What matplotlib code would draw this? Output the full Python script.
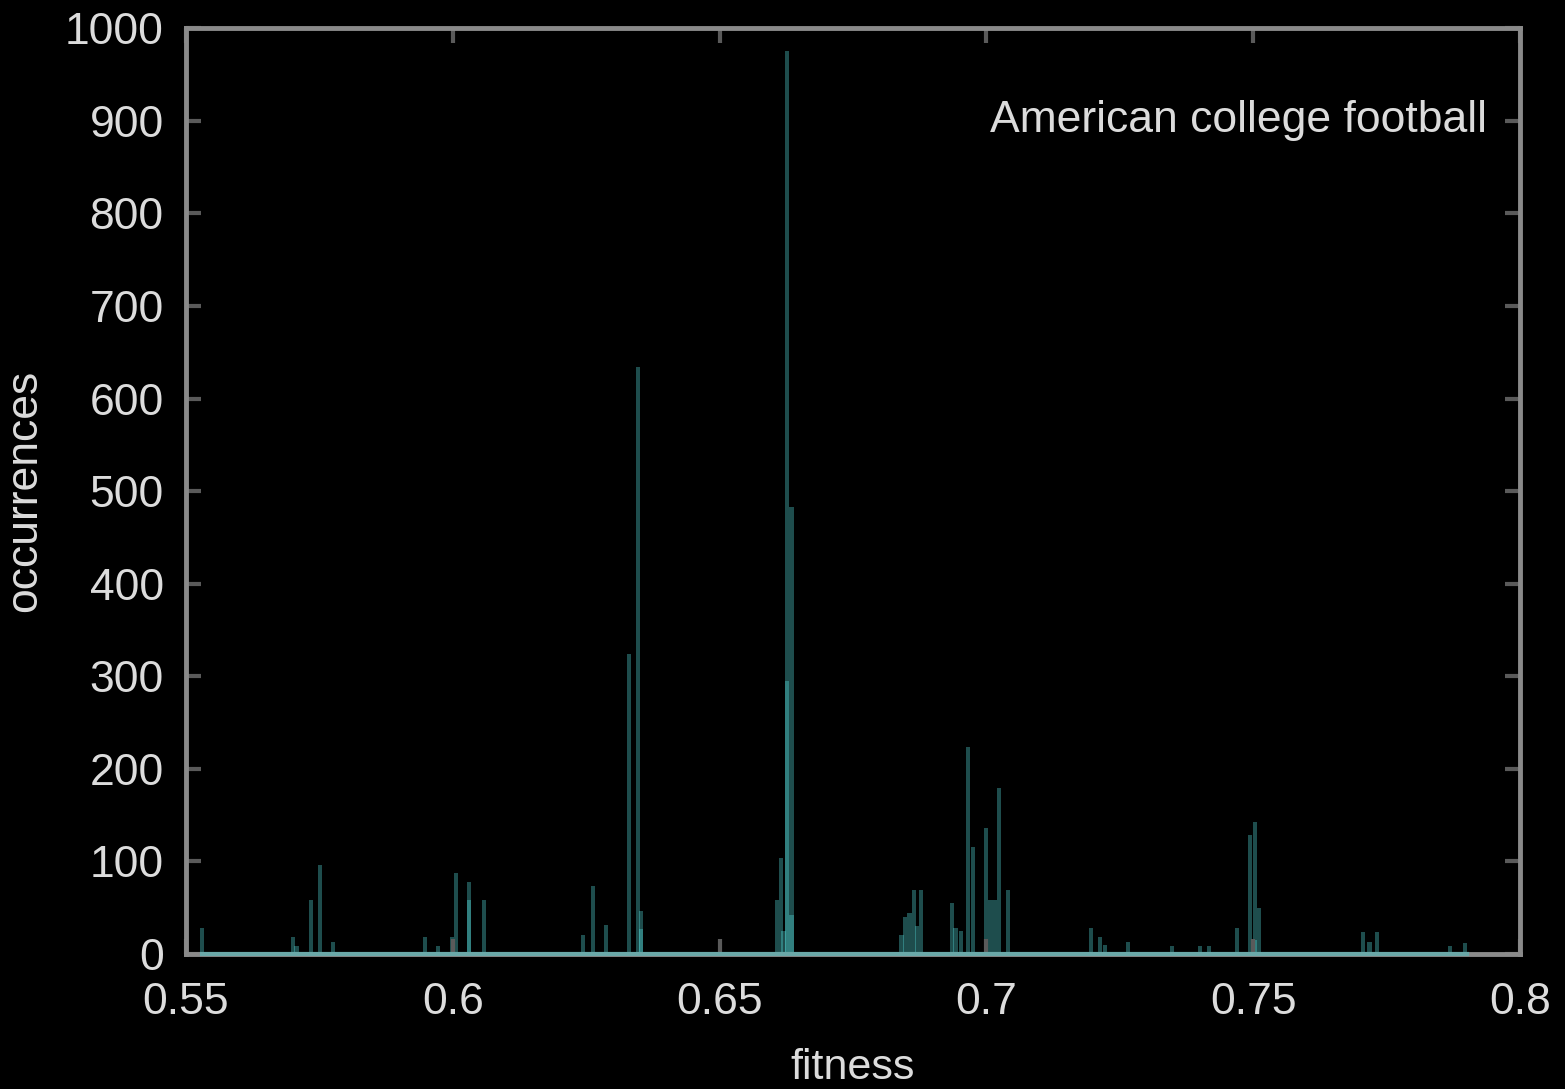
import numpy as np
import matplotlib.pyplot as plt

# fitness bins and occurrence counts (overlapping runs share a position)
fitness = [0.5530, 0.5700, 0.5707, 0.5734, 0.5751, 0.5776,
           0.5948, 0.5972, 0.5999, 0.6006, 0.6030, 0.6030, 0.6058,
           0.6244, 0.6263, 0.6287, 0.6330, 0.6347, 0.6353, 0.6353,
           0.6608, 0.6615, 0.6626, 0.6626, 0.6635, 0.6635, 0.6620,
           0.6841, 0.6848, 0.6856, 0.6865, 0.6878, 0.6870,
           0.6935, 0.6942, 0.6965, 0.6975, 0.6952, 0.6999, 0.7008, 0.7016, 0.7024, 0.7041,
           0.7196, 0.7213, 0.7222, 0.7265, 0.7348, 0.7400, 0.7417,
           0.7470, 0.7494, 0.7503, 0.7511, 0.7503,
           0.7706, 0.7718, 0.7732, 0.7869, 0.7897]
occurrences = [28, 18, 9, 58, 96, 13,
               18, 9, 18, 87, 78, 58, 58,
               20, 73, 31, 324, 634, 46, 27,
               58, 104, 975, 295, 483, 42, 25,
               20, 40, 44, 69, 69, 30,
               55, 28, 224, 116, 25, 136, 58, 58, 179, 69,
               28, 18, 10, 13, 9, 9, 9,
               28, 128, 143, 50, 15,
               24, 13, 24, 9, 12]

xticks = [0.55, 0.6, 0.65, 0.7, 0.75, 0.8]
xticklabels = ['0.55', '0.6', '0.65', '0.7', '0.75', '0.8']
yticks = list(range(0, 1001, 100))

plt.rcParams['font.family'] = ['Liberation Sans', 'DejaVu Sans']

fig = plt.figure(figsize=(15.65, 10.89), dpi=100, facecolor='black')
ax = fig.add_axes([0.1188, 0.124, 0.8524, 0.850], facecolor='black')

ax.bar(fitness, occurrences, width=0.0008, color='#55d8d8', alpha=0.36,
       linewidth=0, align='center')
# zero level of the histogram
ax.plot([0.553, 0.790], [0, 0], color='#6aa8a8', lw=3, zorder=5, clip_on=False)

ax.set_xlim(0.55, 0.8)
ax.set_ylim(0, 1000)
ax.set_xticks(xticks)
ax.set_xticklabels(xticklabels)
ax.set_yticks(yticks)

for s in ax.spines.values():
    s.set_color('#8a8a8a')
    s.set_linewidth(3.5)

ax.tick_params(axis='both', direction='in', length=11, width=3, color='#5a5a5a',
               labelcolor='#dcdcdc', labelsize=32, top=True, right=True)
ax.tick_params(axis='x', pad=20)
ax.tick_params(axis='y', pad=16)

ax.set_xlabel('fitness', color='#dcdcdc', fontsize=31, labelpad=18)
ax.set_ylabel('occurrences', color='#dcdcdc', fontsize=32, labelpad=14)

ax.text(0.975, 0.9, 'American college football', transform=ax.transAxes,
        ha='right', va='center', color='#dcdcdc', fontsize=32)

fig.savefig('out.png', dpi=100, facecolor='black')
